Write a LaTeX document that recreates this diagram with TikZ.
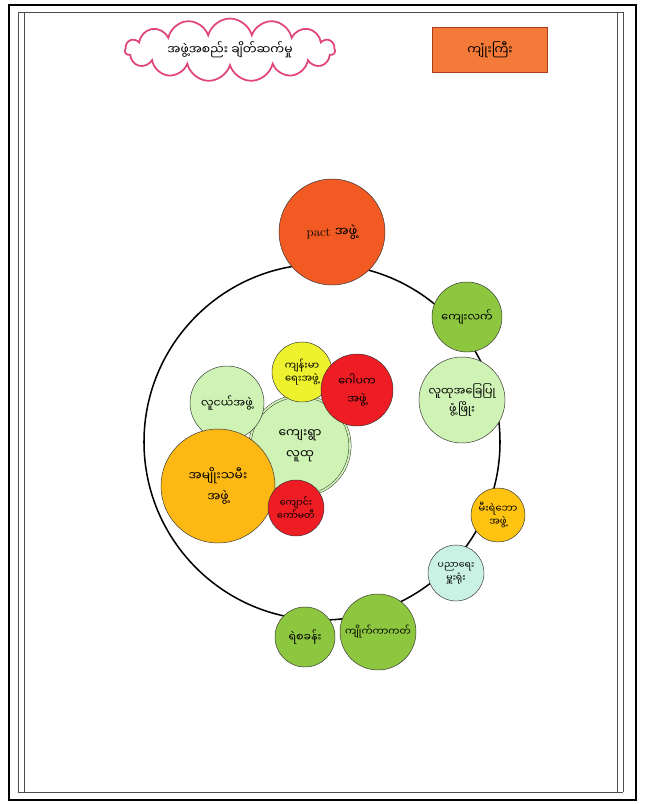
\documentclass[tikz,border=0pt]{standalone}
\usepackage{fontspec}
\usetikzlibrary{shapes.symbols}
\newfontfamily\mya[Script=Myanmar]{Noto Sans Myanmar UI}
\definecolor{pactorange}{HTML}{F15A22}
\definecolor{leafgreen}{HTML}{8DC63F}
\definecolor{palegreen}{HTML}{CFF3B5}
\definecolor{lemon}{HTML}{EEF22E}
\definecolor{scarlet}{HTML}{EE1D23}
\definecolor{amber}{HTML}{FDB813}
\definecolor{gold}{HTML}{FFC312}
\definecolor{mint}{HTML}{C9F1E4}
\definecolor{cloudpink}{HTML}{E0457B}
\definecolor{tagorange}{HTML}{F47A3A}

\begin{document}
\begin{tikzpicture}[x=0.03cm, y=-0.03cm, every node/.style={circle, draw=black!80, thin, inner sep=0pt, align=center, font=\mya\fontsize{9.5}{13}\selectfont}]
			\useasboundingbox (0,0) rectangle (645,804);
			\fill[white] (0,0) rectangle (645,804);
			% frame of the sheet
			\draw[line width=2.5pt] (9,5) rectangle (636,800);
			\draw[black!70, thin] (18,12) -- (18,792);
			\draw[black!70, thin] (24,12) -- (24,792);
			\draw[black!70, thin] (617,12) -- (617,792);
			\draw[black!70, thin] (623,12) -- (623,792);
			\draw[black!70, thin] (18,12) -- (623,12);
			\draw[black!70, thin] (18,792) -- (623,792);
			
			\node[cloud, cloud puffs=15, aspect=5, draw=cloudpink, line width=1.5pt, minimum width=6.3cm, minimum height=1.3cm, font=\mya\fontsize{10.5}{13}\selectfont] (title) at (230,50) {အဖွဲ့အစည်း ချိတ်ဆက်မှု};
			\node[rectangle, fill=tagorange, draw=pactorange!70!black, minimum width=3.45cm, minimum height=1.35cm, font=\mya\fontsize{10.5}{13}\selectfont] (village) at (490,50) {ကျုံးကြီး};
			
			\node[draw=black, line width=1.3pt, minimum size=10.68cm] (ring) at (322,442) {};
			
			\node[fill=palegreen, double=palegreen, double distance=1.5pt, minimum size=3.0cm, font=\mya\fontsize{10.5}{14}\selectfont] (community) at (300,446) {ကျေးရွာ\\[4pt]လူထု};
			\node[fill=palegreen, minimum size=2.22cm] (youth) at (227,403) {လူငယ်အဖွဲ့};
			\node[fill=amber, minimum size=3.42cm, font=\mya\fontsize{10.5}{14}\selectfont] (women) at (218,486) {အမျိုးသမီး\\[4pt]အဖွဲ့};
			\node[fill=scarlet, minimum size=1.68cm, font=\mya\fontsize{8}{11}\selectfont] (school) at (296,508) {ကျောင်း\\ကော်မတီ};
			\node[fill=lemon, minimum size=1.8cm, font=\mya\fontsize{8.5}{11}\selectfont] (health) at (302,372) {ကျန်းမာ\\ရေးအဖွဲ့};
			\node[fill=scarlet, minimum size=2.16cm] (gawpaka) at (357,390) {ဂေါပက\\[2pt]အဖွဲ့};
			
			\node[fill=pactorange, minimum size=3.18cm, font=\fontsize{11}{13}\selectfont] (pact) at (332,232) {pact {\mya\fontsize{11}{13}\selectfont အဖွဲ့}};
			\node[fill=leafgreen, minimum size=2.1cm] (rural) at (467,317) {ကျေးလက်};
			\node[fill=palegreen, minimum size=2.58cm] (cbd) at (462,400) {လူထုအခြေပြု\\[2pt]ဖွံ့ဖြိုး};
			\node[fill=gold, minimum size=1.62cm, font=\mya\fontsize{8.5}{11}\selectfont] (fire) at (498,515) {မီးရဲဘော\\အဖွဲ့};
			\node[fill=mint, minimum size=1.68cm, font=\mya\fontsize{8}{11}\selectfont] (edu) at (456,573) {ပညာရေး\\မှူးရုံး};
			\node[fill=leafgreen, minimum size=1.8cm] (police) at (305,637) {ရဲစခန်း};
			\node[fill=leafgreen, minimum size=2.28cm, font=\mya\fontsize{8.5}{11}\selectfont] (kyaik) at (378,632) {ကျိုက်ကာကတ်};
			\end{tikzpicture}
\end{document}
